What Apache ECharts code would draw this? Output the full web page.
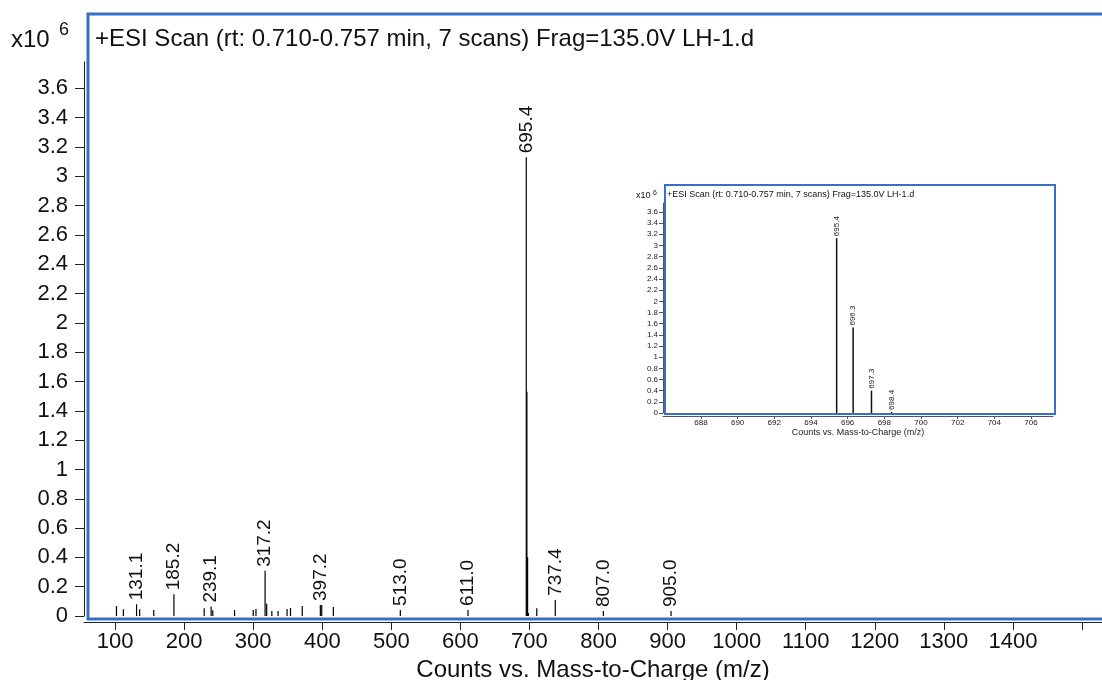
<!DOCTYPE html>
<html>
<head>
<meta charset="utf-8">
<script src="https://cdn.jsdelivr.net/npm/echarts@6/dist/echarts.min.js"></script>
<style>
  html, body { margin: 0; padding: 0; background: #fff; }
  #chart { width: 1102px; height: 680px; }
</style>
</head>
<body>
<div id="chart"></div>
<script>
// main spectrum, m/z vs counts (x10^6)
const mainMz = [102.0, 112.0, 131.1, 135.6, 156.0, 185.2, 229.0, 239.1, 241.5, 273.0,
  300.0, 304.0, 317.2, 319.5, 327.0, 336.0, 349.0, 354.0, 371.0, 397.2,
  399.2, 416.0, 513.0, 611.0, 695.4, 696.3, 697.3, 698.4, 710.6, 737.4,
  807.0, 905.0];
const mainIntensity = [0.068, 0.046, 0.08, 0.046, 0.041, 0.148, 0.053, 0.064, 0.04, 0.041,
  0.041, 0.048, 0.308, 0.084, 0.034, 0.034, 0.048, 0.055, 0.068, 0.075,
  0.075, 0.061, 0.041, 0.041, 3.13, 1.53, 0.40, 0.02, 0.053, 0.11,
  0.034, 0.034];
const mainLabels = ['', '', '131.1', '', '', '185.2', '', '239.1', '', '',
  '', '', '317.2', '', '', '', '', '', '', '397.2',
  '', '', '513.0', '611.0', '695.4', '', '', '', '', '737.4',
  '807.0', '905.0'];

// zoomed inset around the molecular ion
const insetMz = [695.4, 696.3, 697.3, 698.4];
const insetIntensity = [3.13, 1.53, 0.40, 0.02];
const insetLabels = ['695.4', '696.3', '697.3', '698.4'];

// tick labels
const mainXTicks = [100, 200, 300, 400, 500, 600, 700, 800, 900, 1000, 1100, 1200, 1300, 1400, 1500];
const mainXLabels = [100, 200, 300, 400, 500, 600, 700, 800, 900, 1000, 1100, 1200, 1300, 1400];
const yTicks = [0, 0.2, 0.4, 0.6, 0.8, 1, 1.2, 1.4, 1.6, 1.8, 2, 2.2, 2.4, 2.6, 2.8, 3, 3.2, 3.4, 3.6];
const insetXTicks = [688, 690, 692, 694, 696, 698, 700, 702, 704, 706];

const titleText = '+ESI Scan (rt: 0.710-0.757 min, 7 scans) Frag=135.0V LH-1.d';
const xName = 'Counts vs. Mass-to-Charge (m/z)';

const FONT = '"Liberation Sans", Arial, sans-serif';
const BLUE = '#3b6fc6';

const plain = (v) => String(v);

const toBars = (mz, vals, labels, fontSize) =>
  mz.map((m, i) => ({
    value: [m, vals[i]],
    label: labels[i]
      ? { show: true, formatter: labels[i], fontSize: fontSize }
      : { show: false },
  }));

const chart = echarts.init(document.getElementById('chart'));

const option = {
  animation: false,
  backgroundColor: '#fff',
  grid: [
    { left: 84, right: 0, top: 62, bottom: 64, outerBoundsMode: 'none' },
    { left: 663, right: 49, top: 203, bottom: 267, outerBoundsMode: 'none' },
  ],
  xAxis: [
    {
      type: 'value',
      gridIndex: 0,
      min: 55,
      max: 1529,
      offset: 6,
      axisLine: { show: true, onZero: false, lineStyle: { color: '#222', width: 1 } },
      axisTick: { show: true, length: 8, customValues: mainXTicks, lineStyle: { color: '#222' } },
      axisLabel: {
        customValues: mainXLabels,
        formatter: plain,
        fontSize: 22,
        fontFamily: FONT,
        color: '#111',
        margin: 9,
      },
      splitLine: { show: false },
      name: xName,
      nameLocation: 'middle',
      nameGap: 33,
      nameTextStyle: { fontSize: 24, fontFamily: FONT, color: '#111' },
    },
    {
      type: 'value',
      gridIndex: 1,
      min: 685.93,
      max: 707.2,
      offset: 3,
      axisLine: { show: true, onZero: false, lineStyle: { color: '#555', width: 1 } },
      axisTick: { show: true, length: 3, customValues: insetXTicks, lineStyle: { color: '#555' } },
      axisLabel: {
        customValues: insetXTicks,
        formatter: plain,
        fontSize: 8,
        fontFamily: FONT,
        color: '#222',
        margin: 3,
      },
      splitLine: { show: false },
      name: xName,
      nameLocation: 'middle',
      nameGap: 9,
      nameTextStyle: { fontSize: 9, fontFamily: FONT, color: '#222' },
    },
  ],
  yAxis: [
    {
      type: 'value',
      gridIndex: 0,
      min: 0,
      max: 3.78,
      axisLine: { show: true, onZero: false, lineStyle: { color: '#222', width: 1 } },
      axisTick: { show: true, length: 9, customValues: yTicks, lineStyle: { color: '#222' } },
      axisLabel: {
        customValues: yTicks,
        formatter: plain,
        fontSize: 22,
        fontFamily: FONT,
        color: '#111',
        margin: 16,
      },
      splitLine: { show: false },
    },
    {
      type: 'value',
      gridIndex: 1,
      min: 0,
      max: 3.76,
      axisLine: { show: true, onZero: false, lineStyle: { color: '#555', width: 1 } },
      axisTick: { show: true, length: 4, customValues: yTicks, lineStyle: { color: '#555' } },
      axisLabel: {
        customValues: yTicks,
        formatter: plain,
        fontSize: 8,
        fontFamily: FONT,
        color: '#222',
        margin: 5,
      },
      splitLine: { show: false },
    },
  ],
  graphic: [
    // 主图蓝框（右边在画布外）
    {
      type: 'rect',
      z: 10,
      shape: { x: 88, y: 14, width: 1030, height: 605 },
      style: { fill: 'none', stroke: BLUE, lineWidth: 3 },
    },
    // 小图背景 + 蓝框
    {
      type: 'rect',
      z: 0,
      shape: { x: 665, y: 185, width: 390, height: 229 },
      style: { fill: '#fff', stroke: BLUE, lineWidth: 2 },
    },
    {
      type: 'text',
      z: 11,
      x: 95,
      y: 39,
      style: { text: titleText, font: '24px ' + FONT, fill: '#111', align: 'left', verticalAlign: 'middle' },
    },
    {
      type: 'text',
      x: 11,
      y: 40,
      style: { text: 'x10', font: '24px ' + FONT, fill: '#111', align: 'left', verticalAlign: 'middle' },
    },
    {
      type: 'text',
      x: 59,
      y: 30,
      style: { text: '6', font: '18px ' + FONT, fill: '#111', align: 'left', verticalAlign: 'middle' },
    },
    {
      type: 'text',
      z: 11,
      x: 667,
      y: 195,
      style: { text: titleText, font: '9px ' + FONT, fill: '#111', align: 'left', verticalAlign: 'middle' },
    },
    {
      type: 'text',
      x: 636,
      y: 196,
      style: { text: 'x10', font: '9px ' + FONT, fill: '#111', align: 'left', verticalAlign: 'middle' },
    },
    {
      type: 'text',
      x: 653,
      y: 193,
      style: { text: '6', font: '7px ' + FONT, fill: '#111', align: 'left', verticalAlign: 'middle' },
    },
  ],
  series: [
    {
      type: 'bar',
      xAxisIndex: 0,
      yAxisIndex: 0,
      barWidth: 1.2,
      itemStyle: { color: '#000' },
      label: {
        position: 'top',
        rotate: 90,
        align: 'left',
        verticalAlign: 'middle',
        distance: 4,
        fontFamily: FONT,
        color: '#111',
      },
      data: toBars(mainMz, mainIntensity, mainLabels, 19),
    },
    {
      type: 'bar',
      xAxisIndex: 1,
      yAxisIndex: 1,
      barWidth: 1.5,
      z: 3,
      itemStyle: { color: '#111' },
      label: {
        position: 'top',
        rotate: 90,
        align: 'left',
        verticalAlign: 'middle',
        distance: 2,
        fontFamily: FONT,
        color: '#222',
      },
      data: toBars(insetMz, insetIntensity, insetLabels, 8),
    },
  ],
};

chart.setOption(option);
</script>
</body>
</html>
